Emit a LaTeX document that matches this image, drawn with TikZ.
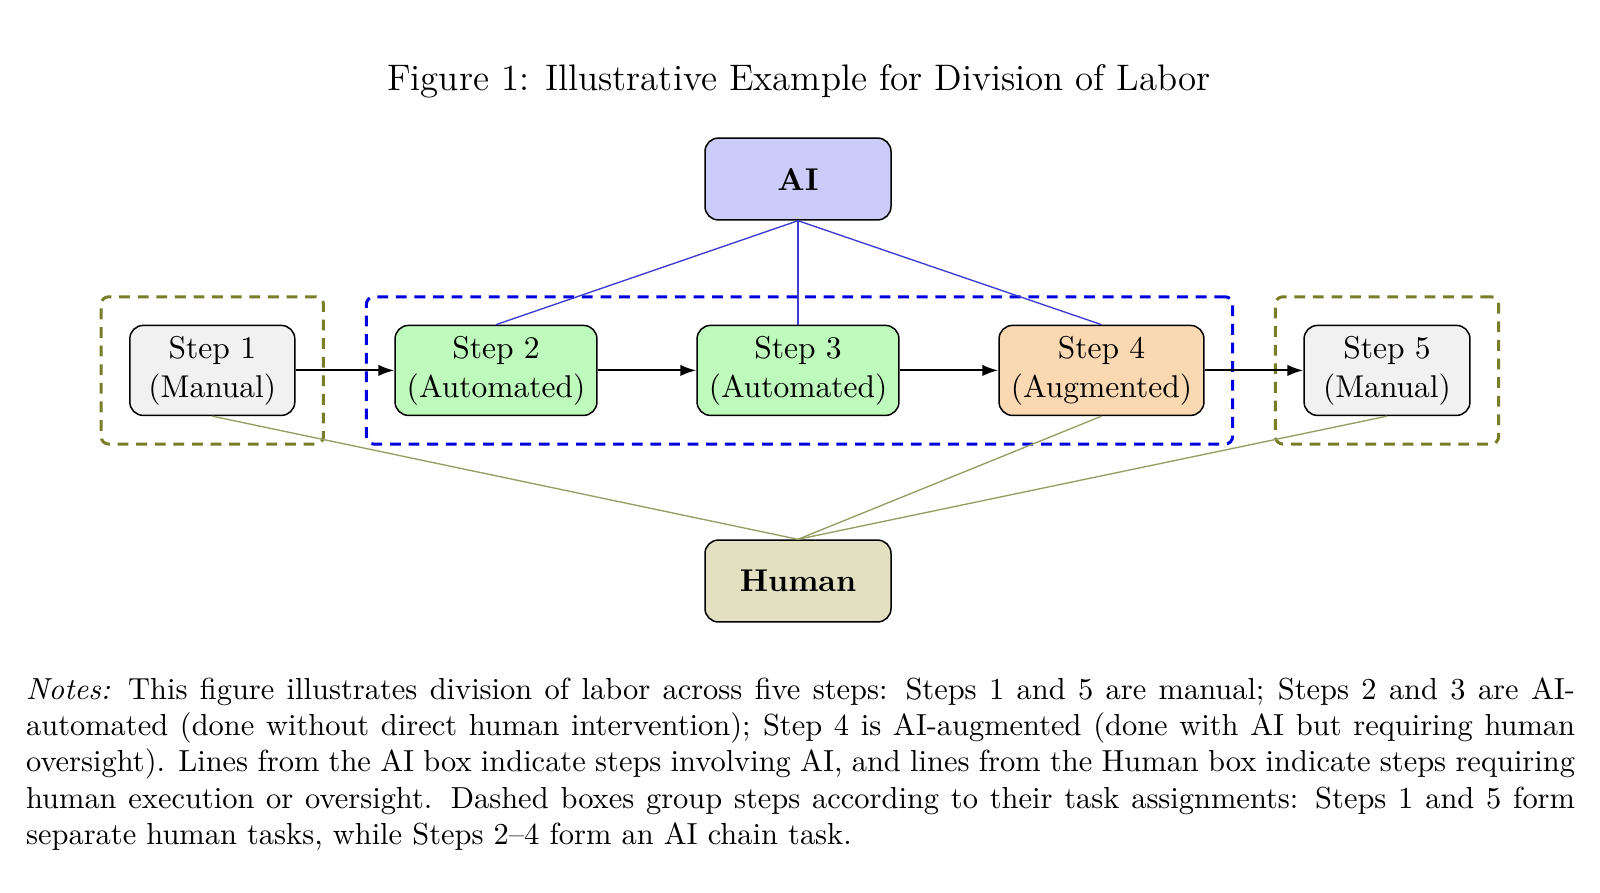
\documentclass[tikz,border=0pt]{standalone}
\usetikzlibrary{arrows.meta,fit}
\definecolor{manualfill}{RGB}{241,241,241}
\definecolor{autofill}{RGB}{191,250,189}
\definecolor{augfill}{RGB}{250,216,178}
\definecolor{aifill}{RGB}{203,204,250}
\definecolor{humanfill}{RGB}{226,224,192}
\definecolor{grpolive}{RGB}{120,125,40}
\definecolor{grpblue}{RGB}{0,0,225}
\definecolor{ailine}{RGB}{60,60,210}
\definecolor{humline}{RGB}{150,158,100}
\begin{document}
\begin{tikzpicture}[x=0.33333pt,y=-0.33333pt,
  stepbox/.style={draw=black, line width=0.5pt, rounded corners=4.5pt, align=center,
    font=\fontsize{10.5}{13}\selectfont, inner sep=0pt, minimum height=30pt},
  agentbox/.style={draw=black, line width=0.5pt, rounded corners=4.5pt,
    font=\fontsize{10.5}{13}\selectfont\bfseries, inner sep=0pt,
    minimum width=62pt, minimum height=27.3pt},
  grpbox/.style={line width=1pt, dash pattern=on 3.6pt off 2.6pt, rounded corners=2.5pt, inner sep=9.3pt},
  arr/.style={line width=0.7pt, -{Latex[length=5.3pt,width=3.8pt]}},
  ailink/.style={draw=ailine, line width=0.45pt},
  humlink/.style={draw=humline, line width=0.45pt}]
\useasboundingbox (0,0) rectangle (1600,892);

\node[anchor=base, font=\fontsize{12.3}{14.5}\selectfont] (title) at (799,90) {Figure 1: Illustrative Example for Division of Labor};

\node[agentbox, fill=aifill] (ai) at (798,179) {AI};
\node[agentbox, fill=humanfill] (human) at (798,581) {Human};

\node[stepbox, fill=manualfill, minimum width=55pt] (s1) at (212.3,370.4) {Step 1\\(Manual)};
\node[stepbox, fill=autofill, minimum width=67.3pt] (s2) at (496,370.4) {Step 2\\(Automated)};
\node[stepbox, fill=autofill, minimum width=67.3pt] (s3) at (798,370.4) {Step 3\\(Automated)};
\node[stepbox, fill=augfill, minimum width=68.3pt] (s4) at (1101.5,370.4) {Step 4\\(Augmented)};
\node[stepbox, fill=manualfill, minimum width=55.3pt] (s5) at (1387,370.4) {Step 5\\(Manual)};

\node[grpbox, draw=grpolive, fit=(s1)] (g1) {};
\node[grpbox, draw=grpblue, fit=(s2)(s4)] (g2) {};
\node[grpbox, draw=grpolive, fit=(s5)] (g3) {};

\draw[ailink] (ai.south) -- (s2.north);
\draw[ailink] (ai.south) -- (s3.north);
\draw[ailink] (ai.south) -- (s4.north);

\draw[humlink] (human.north) -- (s1.south);
\draw[humlink] (human.north) -- (s4.south);
\draw[humlink] (human.north) -- (s5.south);

\draw[arr] (s1) -- (s2);
\draw[arr] (s2) -- (s3);
\draw[arr] (s3) -- (s4);
\draw[arr] (s4) -- (s5);

\node[anchor=base west, inner sep=0pt, font=\fontsize{10.15}{12.1}\selectfont] (notes) at (25.5,699.3)
{\parbox[t]{516.3pt}{\hyphenpenalty=10000\exhyphenpenalty=10000\textit{Notes:} This figure illustrates division of labor across five steps: Steps 1 and 5 are manual; Steps 2 and 3 are AI-\linebreak automated (done without direct human intervention); Step 4 is AI-augmented (done with AI but requiring human\linebreak oversight). Lines from the AI box indicate steps involving AI, and lines from the Human box indicate steps requiring\linebreak human execution or oversight. Dashed boxes group steps according to their task assignments: Steps 1 and 5 form\linebreak separate human tasks, while Steps 2--4 form an AI chain task.}};
\end{tikzpicture}
\end{document}
